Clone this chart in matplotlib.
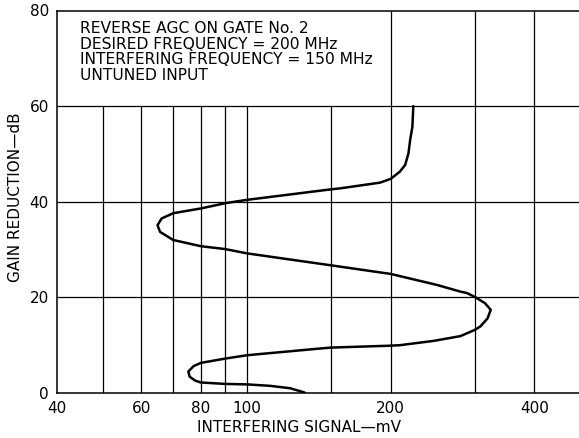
import numpy as np
import matplotlib
matplotlib.use("Agg")
import matplotlib.pyplot as plt

# Curve, traced from the top end (60 dB) down to 0 dB
signal_mv = [223, 222, 219.6, 217.8, 214.4, 209, 200, 190, 172.5, 156.7, 150, 100, 90,
             80, 70, 66.2, 64.9, 65.7, 70, 80, 90, 100, 150, 200, 250, 280, 289,
             300, 315, 324, 319, 308, 300, 280, 246, 209, 200, 150, 142, 100, 90,
             80, 77.2, 75.3, 75.8, 77.8, 80, 90, 100, 111.7, 123, 132]
gain_db = [60, 55.7, 52.9, 50.1, 47.7, 46.3, 44.8, 44.0, 43.4, 42.8, 42.6, 40.4, 39.7,
           38.6, 37.6, 36.5, 35.1, 33.7, 32.0, 30.7, 30.1, 29.2, 26.7, 24.9, 22.6, 21.2, 20.9,
           20.1, 18.8, 17.4, 15.6, 13.9, 13.2, 11.9, 10.9, 10.0, 9.9, 9.5, 9.3, 7.9, 7.2,
           6.3, 5.6, 4.5, 3.4, 2.6, 2.2, 1.9, 1.8, 1.5, 1.0, 0.1]

x_ticks = [40, 60, 80, 100, 200, 400]
y_ticks = [0, 20, 40, 60, 80]
grid_short = [50, 60, 70, 80, 90, 100, 150]   # stop under the note box
grid_long = [200, 300, 400]
grid_h = [20, 40, 60]

note = ["REVERSE AGC ON GATE No. 2",
        "DESIRED FREQUENCY = 200 MHz",
        "INTERFERING FREQUENCY = 150 MHz",
        "UNTUNED INPUT"]

W, H = 579, 438
fig = plt.figure(figsize=(W / 100, H / 100), dpi=100)
ax = fig.add_axes([57.2 / W, 1 - 393 / H, 1 - 57.2 / W, (393 - 10.5) / H])

ax.set_xscale("log")
ax.set_xlim(40, 496)
ax.set_ylim(0, 80)

# grid
ax.vlines(grid_short, 0, 60, colors="black", lw=0.9)
ax.vlines(grid_long, 0, 80, colors="black", lw=0.9)
ax.hlines(grid_h, 40, 496, colors="black", lw=0.9)

ax.plot(signal_mv, gain_db, color="black", lw=1.8,
        solid_capstyle="round", solid_joinstyle="round")

ax.spines["right"].set_visible(False)
for s in ["left", "bottom", "top"]:
    ax.spines[s].set_linewidth(1.1)

ax.set_xticks(x_ticks)
ax.set_xticklabels([str(v) for v in x_ticks])
ax.xaxis.set_minor_locator(matplotlib.ticker.NullLocator())
ax.set_yticks(y_ticks)
ax.tick_params(length=0, labelsize=11, pad=6)

for i, line in enumerate(note):
    fig.text(80 / W, 1 - (28.5 + 15.7 * i) / H, line, fontsize=11.2,
             va="center", ha="left")

fig.text(299 / W, 1 - 428 / H, "INTERFERING SIGNAL\u2014mV", fontsize=11,
         ha="center", va="center")
fig.text(16 / W, 1 - 197 / H, "GAIN REDUCTION\u2014dB", fontsize=11,
         ha="center", va="center", rotation=90)

fig.savefig("out.png", dpi=100, facecolor="white")
